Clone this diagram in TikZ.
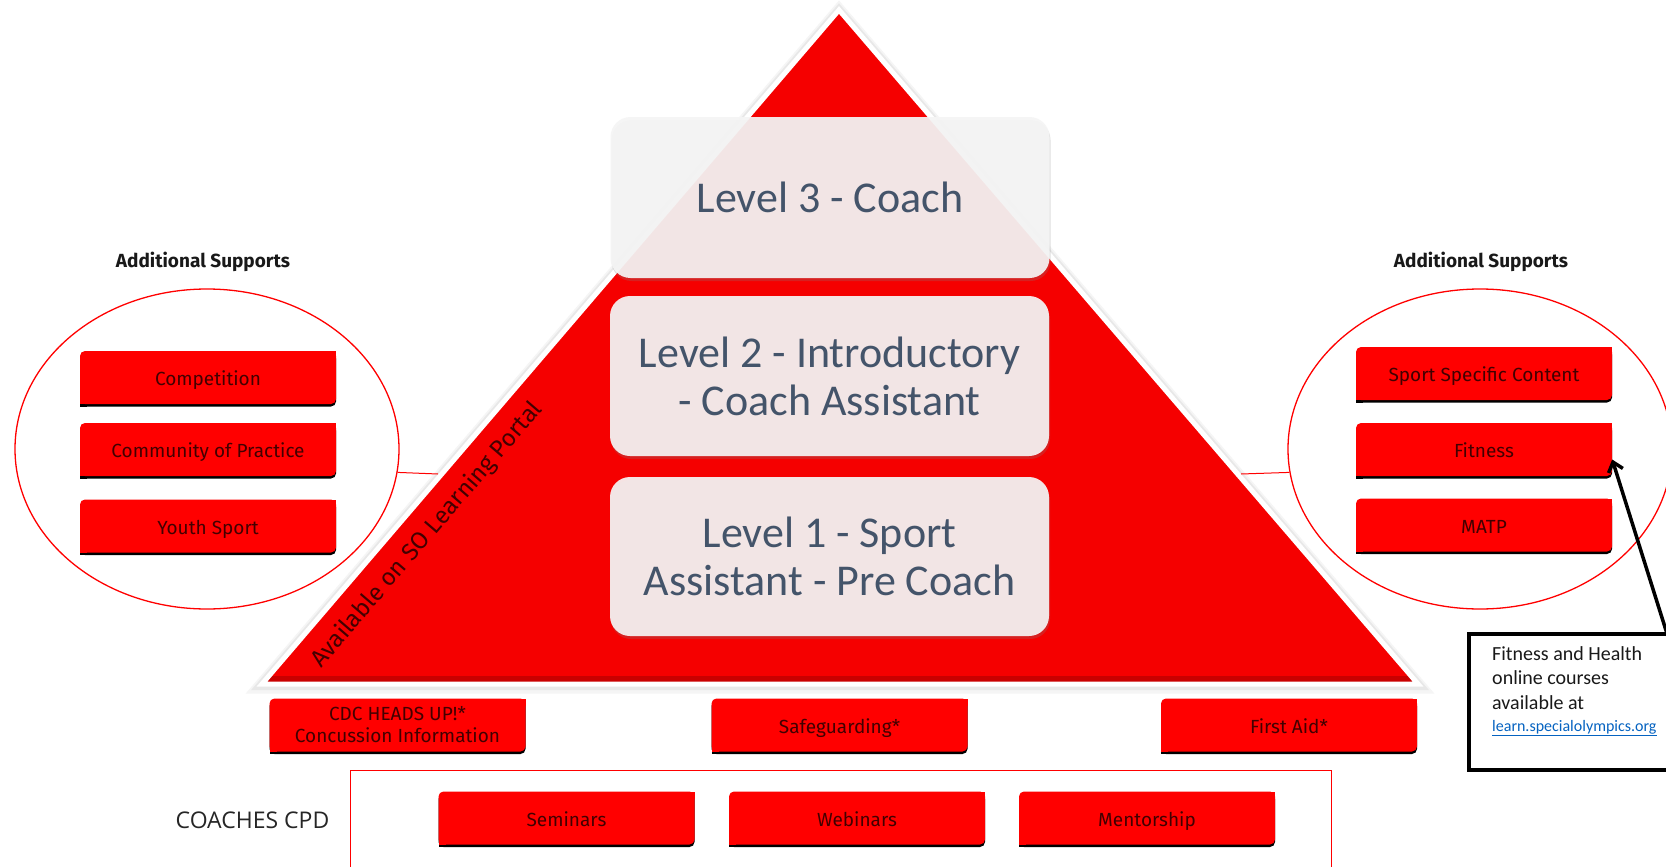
\documentclass[tikz,border=0pt]{standalone}
\usepackage{fontspec}
\setmainfont{Carlito}
\newfontfamily\boxfont{Fira Sans}
\newfontfamily\calfont{Carlito}
\newfontfamily\opfont{Open Sans}
\usetikzlibrary{shapes.geometric,arrows.meta,shadows}
\definecolor{trired}{HTML}{F50000}
\definecolor{boxred}{HTML}{FF0000}
\definecolor{boxtext}{HTML}{420000}
\definecolor{leveltext}{HTML}{44546A}
\definecolor{linkblue}{HTML}{0563C1}
\definecolor{cpdtext}{HTML}{262626}
\tikzset{
  rtext/.style={inner sep=0pt, minimum width=256, minimum height=53, align=center,
    text=boxtext, font=\boxfont\fontsize{19}{22}\selectfont},
  levelbox/.style={rounded corners=20, fill=black!4, fill opacity=0.93, text opacity=1,
    text=leveltext, minimum width=439, minimum height=160, inner sep=0pt, align=center,
    font=\calfont\fontsize{44}{48}\selectfont,
    drop shadow={opacity=0.25, shadow xshift=1pt, shadow yshift=-3pt}},
  suppellipse/.style={ellipse, draw=boxred, line width=1.3, minimum width=384, minimum height=320, inner sep=0pt},
  conn/.style={draw=boxred, line width=1},
  headtext/.style={font=\boxfont\bfseries\fontsize{19}{21}\selectfont, text=black!90, inner sep=0pt},
  infotext/.style={font=\calfont\fontsize{20}{22}\selectfont, text=black!90, inner sep=0pt, anchor=base west},
}
\newcommand\redbox[5][text height=16pt,text depth=0pt]{%
 \begin{scope}[shift={(#3,#4)}]
  \fill[black,rounded corners=5] (-128,-24) rectangle (128,29);
  \fill[black] (-128,22) rectangle (-121,29);
  \fill[boxred,rounded corners=5] (-128,-26.5) rectangle (128,26.5);
  \fill[boxred] (121,-26.5) rectangle (128,-19);
  \fill[boxred] (-128,19.5) rectangle (-121,26.5);
  \node[rtext,#1] (#2) at (0,0) {#5};
 \end{scope}}
\begin{document}
\begin{tikzpicture}[x=1pt,y=-1pt]
\useasboundingbox (0,0) rectangle (1666,867);
\fill[white] (0,0) rectangle (1666,867);

% pyramid
\coordinate (apex) at (839,10);
\coordinate (bl) at (262,684);
\coordinate (br) at (1418,684);
\draw[line width=15, black!4, line join=miter] ([yshift=-2pt]apex) -- ([yshift=-2pt]bl) -- ([yshift=-2pt]br) -- cycle;
\draw[line width=10, black!9, line join=miter] ([yshift=-1pt]apex) -- ([yshift=-1pt]bl) -- ([yshift=-1pt]br) -- cycle;
\fill[trired] (apex) -- (bl) -- (br) -- cycle;
\begin{scope}
  \clip (apex) -- (bl) -- (br) -- cycle;
  \fill[trired!70!black, opacity=0.6] (200,676) rectangle (1500,684);
\end{scope}
\draw[white, line width=5, line join=miter] (apex) -- (bl) -- (br) -- cycle;

\node[rotate=49.4, text=boxtext, font=\boxfont\fontsize{24}{26}\selectfont, inner sep=0pt] (portal) at (427,535) {Available on SO Learning Portal};

% levels
\node[levelbox, minimum height=161] (l3) at (830,197.5) {Level 3 - Coach};
\node[levelbox] (l2) at (829.5,376) {Level 2 - Introductory\\- Coach Assistant};
\node[levelbox, minimum height=159] (l1) at (829.5,556.5) {Level 1 - Sport\\Assistant - Pre Coach};

% left supports
\node[headtext, anchor=base] (lhead) at (203,267) {Additional Supports};
\node[suppellipse] (lell) at (207,449) {};
\coordinate (lconn) at (438,474);
\draw[conn] (lell.-7.5) -- (lconn);
\redbox{comp}{208}{377.5}{Competition}
\redbox{cop}{208}{449.5}{Community of Practice}
\redbox{youth}{208}{526}{Youth Sport}

% right supports
\node[headtext, anchor=base] (rhead) at (1481,267) {Additional Supports};
\node[suppellipse] (rell) at (1480,449) {};
\coordinate (rconn) at (1241,474);
\draw[conn] (rconn) -- (rell.187.5);
\redbox{ssc}{1484}{373.5}{Sport Specific Content}
\redbox{fit}{1484}{449.5}{Fitness}
\redbox{matp}{1484}{525}{MATP}

% base boxes
\redbox[]{cdc}{397.5}{725}{CDC HEADS UP!*\\Concussion Information}
\redbox{safe}{839.5}{725}{Safeguarding*}
\redbox{aid}{1289}{725}{First Aid*}

% CPD
\node[draw=boxred, line width=1, minimum width=981, minimum height=110, anchor=north west, inner sep=0pt] (cpd) at (350,770) {};
\node[anchor=base, text=cpdtext, font=\opfont\fontsize{23}{25}\selectfont, inner sep=0pt] (cpdlabel) at (252.5,828) {COACHES CPD};
\redbox{sem}{566.5}{818}{Seminars}
\redbox{web}{857}{818}{Webinars}
\redbox{ment}{1147}{818}{Mentorship}

% info box
\node[draw=black, line width=4, minimum width=220, minimum height=136, anchor=north west, inner sep=0pt] (info) at (1467,632) {};
\node[infotext] (i1) at (1492,660) {Fitness and Health};
\node[infotext] (i2) at (1492,684) {online courses};
\node[infotext] (i3) at (1492,709) {available at};
\node[infotext, font=\calfont\fontsize{16}{18}\selectfont, text=linkblue] (i4) at (1492,731) {\underline{learn.specialolympics.org}};
\coordinate (arrS) at (1669,640);
\draw[line width=3.5, -{Straight Barb[length=9pt,width=15pt]}] (arrS) -- ([yshift=-10pt]fit.east);
\end{tikzpicture}
\end{document}
